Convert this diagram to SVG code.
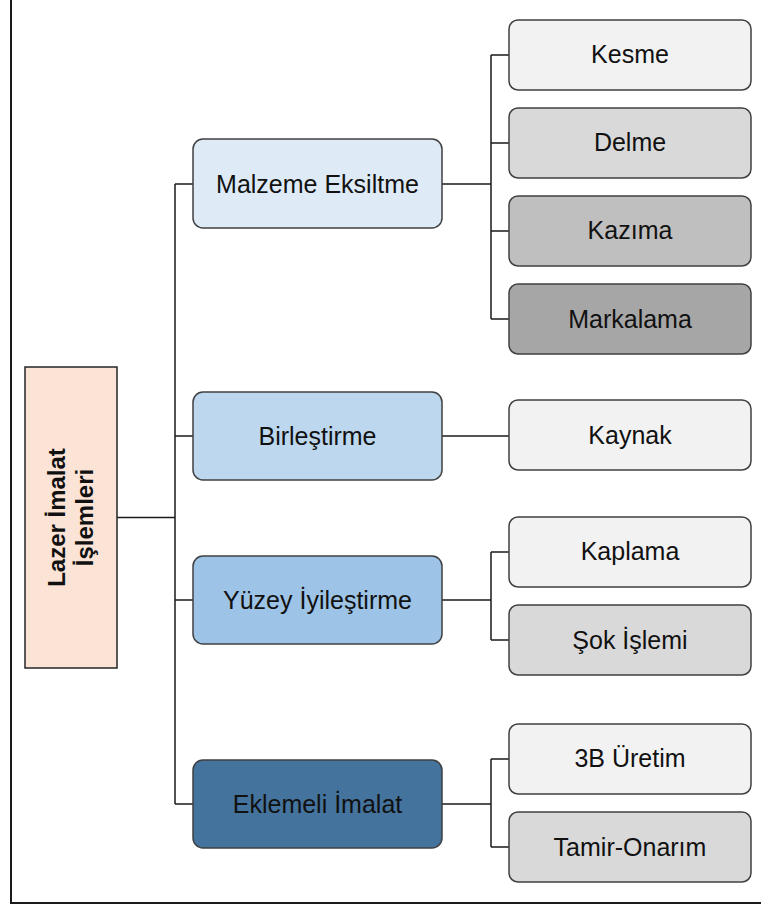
<svg xmlns="http://www.w3.org/2000/svg" width="761" height="905" viewBox="0 0 761 905">
<style>
.box{stroke:#404040;stroke-width:1.5}
.leaf{stroke:#404040;stroke-width:1.5}
.t{font-family:"Liberation Sans",Arial,sans-serif;font-size:25px;fill:#111;text-anchor:middle;dominant-baseline:central}
.tb{font-family:"Liberation Sans",Arial,sans-serif;font-size:24px;font-weight:bold;fill:#111;text-anchor:middle}
.c{fill:none;stroke:#1a1a1a;stroke-width:1.5}
</style>
<rect width="761" height="905" fill="#ffffff"/>
<g id="frame">
<path d="M11 0 V903 H761" fill="none" stroke="#1a1a1a" stroke-width="2"/>
</g>
<g id="connectors">
<path class="c" d="M117 517.5 H175 M175 184 V804 M175 184 H193 M175 436 H193 M175 600 H193 M175 804 H193"/>
<path class="c" d="M442 184 H491 M491 55 V319 M491 55 H509 M491 143 H509 M491 231 H509 M491 319 H509"/>
<path class="c" d="M442 436 H509"/>
<path class="c" d="M442 600 H491 M491 552 V640 M491 552 H509 M491 640 H509"/>
<path class="c" d="M442 804 H491 M491 759 V847 M491 759 H509 M491 847 H509"/>
</g>
<g id="root">
<rect x="25" y="367" width="92" height="301" fill="#fbe3d6" stroke="#262626" stroke-width="1.5"/>
<text class="tb" transform="translate(71 517.5) rotate(-90)"><tspan x="0" y="-6">Lazer İmalat</tspan><tspan x="0" y="22">İşlemleri</tspan></text>
</g>
<g id="malzeme">
<rect class="box" x="193" y="139" width="249" height="89" rx="10" fill="#deebf7"/>
<text class="t" x="317.5" y="184">Malzeme Eksiltme</text>
</g>
<g id="birlestirme">
<rect class="box" x="193" y="392" width="249" height="88" rx="10" fill="#bdd7ee"/>
<text class="t" x="317.5" y="436">Birleştirme</text>
</g>
<g id="yuzey">
<rect class="box" x="193" y="556" width="249" height="88" rx="10" fill="#9dc3e6"/>
<text class="t" x="317.5" y="600">Yüzey İyileştirme</text>
</g>
<g id="eklemeli">
<rect class="box" x="193" y="760" width="249" height="88" rx="10" fill="#44739e"/>
<text class="t" x="317.5" y="804">Eklemeli İmalat</text>
</g>
<g id="kesme">
<rect class="leaf" x="509" y="20" width="242" height="70" rx="9" fill="#f2f2f2"/>
<text class="t" x="630" y="54">Kesme</text>
</g>
<g id="delme">
<rect class="leaf" x="509" y="108" width="242" height="70" rx="9" fill="#d9d9d9"/>
<text class="t" x="630" y="142">Delme</text>
</g>
<g id="kazima">
<rect class="leaf" x="509" y="196" width="242" height="70" rx="9" fill="#bfbfbf"/>
<text class="t" x="630" y="230">Kazıma</text>
</g>
<g id="markalama">
<rect class="leaf" x="509" y="284" width="242" height="70" rx="9" fill="#a6a6a6"/>
<text class="t" x="630" y="319">Markalama</text>
</g>
<g id="kaynak">
<rect class="leaf" x="509" y="400" width="242" height="70" rx="9" fill="#f2f2f2"/>
<text class="t" x="630" y="435">Kaynak</text>
</g>
<g id="kaplama">
<rect class="leaf" x="509" y="517" width="242" height="70" rx="9" fill="#f2f2f2"/>
<text class="t" x="630" y="551">Kaplama</text>
</g>
<g id="sok">
<rect class="leaf" x="509" y="605" width="242" height="70" rx="9" fill="#d9d9d9"/>
<text class="t" x="630" y="640">Şok İşlemi</text>
</g>
<g id="uretim">
<rect class="leaf" x="509" y="724" width="242" height="70" rx="9" fill="#f2f2f2"/>
<text class="t" x="630" y="758">3B Üretim</text>
</g>
<g id="tamir">
<rect class="leaf" x="509" y="812" width="242" height="70" rx="9" fill="#d9d9d9"/>
<text class="t" x="630" y="847">Tamir-Onarım</text>
</g>
</svg>
